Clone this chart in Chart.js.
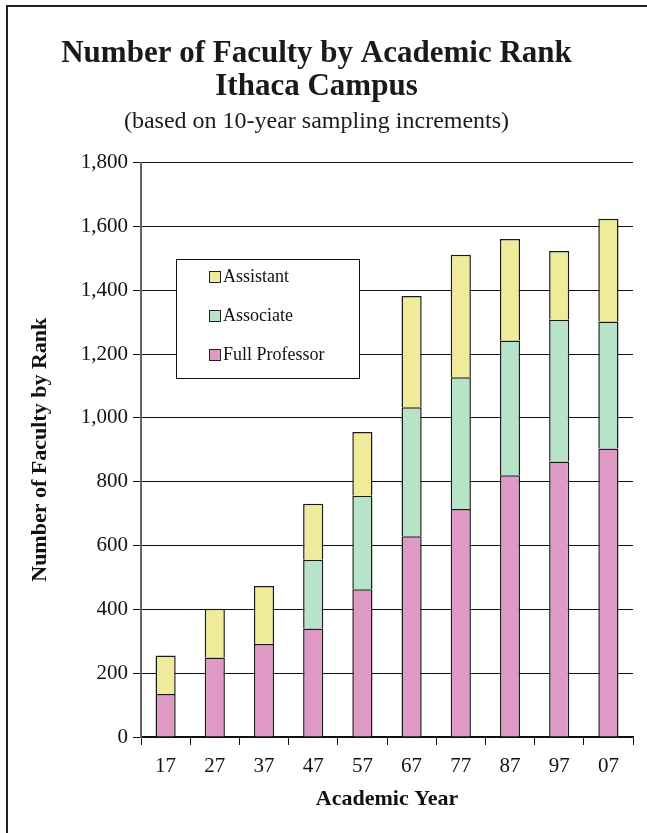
<!DOCTYPE html>
<html>
<head>
<meta charset="utf-8">
<script src="https://cdn.jsdelivr.net/npm/chart.js@4"></script>
<style>
  html, body { margin: 0; padding: 0; background: #fff; }
  #wrap { width: 647px; height: 833px; }
</style>
</head>
<body>
<div id="wrap"><canvas id="chart" width="647" height="833"></canvas></div>
<script>
const years = ["17", "27", "37", "47", "57", "67", "77", "87", "97", "07"];
const fullProfessor = [135, 249, 291, 340, 463, 629, 714, 820, 863, 904];
const associate = [null, null, null, 215, 293, 404, 413, 422, 444, 398];
const assistant = [120, 153, 182, 176, 200, 349, 384, 318, 216, 322];
const yTicks = [0, 200, 400, 600, 800, 1000, 1200, 1400, 1600, 1800];

const serif = "'Liberation Serif', 'Times New Roman', serif";

// frame around the figure + legend box inside the plot
const decor = {
  id: "decor",
  beforeDraw(chart) {
    const ctx = chart.ctx;
    ctx.save();
    ctx.strokeStyle = "#222";
    ctx.lineWidth = 2;
    ctx.beginPath();
    ctx.moveTo(7, 833);
    ctx.lineTo(7, 6);
    ctx.lineTo(647, 6);
    ctx.stroke();
    ctx.restore();
  },
  afterDraw(chart) {
    const ctx = chart.ctx;
    const sets = chart.data.datasets.slice().reverse();
    ctx.save();
    ctx.fillStyle = "#fff";
    ctx.fillRect(176, 259, 183, 119);
    ctx.strokeStyle = "#111";
    ctx.lineWidth = 1;
    ctx.strokeRect(176.5, 259.5, 183, 119);
    ctx.font = "18px " + serif;
    ctx.textBaseline = "middle";
    sets.forEach((ds, i) => {
      const y = 277 + i * 39;
      ctx.fillStyle = ds.backgroundColor;
      ctx.fillRect(209.5, y - 5.5, 11, 11);
      ctx.strokeStyle = "#222";
      ctx.strokeRect(209.5, y - 5.5, 11, 11);
      ctx.fillStyle = "#111";
      ctx.fillText(ds.label, 223, y);
    });
    ctx.restore();
  }
};

new Chart(document.getElementById("chart"), {
  type: "bar",
  data: {
    labels: years,
    datasets: [
      { label: "Full Professor", data: fullProfessor, backgroundColor: "#de9ac4" },
      { label: "Associate", data: associate, backgroundColor: "#b7e3c9" },
      { label: "Assistant", data: assistant, backgroundColor: "#f0ea9b" }
    ].map((d) => ({
      ...d,
      borderColor: "#1a1a1a",
      borderWidth: 1.5,
      borderSkipped: "start",
      barPercentage: 0.41,
      categoryPercentage: 1
    }))
  },
  options: {
    responsive: false,
    animation: false,
    layout: { padding: { left: 0, right: 14, top: 0, bottom: 0 } },
    plugins: {
      legend: { display: false },
      tooltip: { enabled: false },
      title: {
        display: true,
        text: ["Number of Faculty by Academic Rank", "Ithaca Campus"],
        color: "#1a1a1a",
        font: { family: serif, size: 31, weight: "bold", lineHeight: 1.05 },
        padding: { top: 38, bottom: 2 }
      },
      subtitle: {
        display: true,
        text: "(based on 10-year sampling increments)",
        color: "#1a1a1a",
        font: { family: serif, size: 24, lineHeight: 1.1 },
        padding: { top: 3, bottom: 28 }
      }
    },
    scales: {
      x: {
        stacked: true,
        afterFit(scale) { scale.height = 96; },
        grid: {
          offset: true,
          drawOnChartArea: false,
          drawTicks: true,
          tickLength: 8,
          color: "#111"
        },
        border: { display: true, color: "#111", width: 1.5 },
        ticks: {
          color: "#111",
          padding: 9,
          font: { family: serif, size: 21 }
        },
        title: {
          display: true,
          text: "Academic Year",
          color: "#111",
          font: { family: serif, size: 22, weight: "bold", lineHeight: 1.2 },
          padding: { top: 4, bottom: 20 }
        }
      },
      y: {
        stacked: true,
        min: 0,
        max: 1800,
        afterFit(scale) { scale.width = 141; },
        afterBuildTicks(scale) { scale.ticks = yTicks.map((v) => ({ value: v })); },
        grid: {
          color: "#111",
          lineWidth: 1,
          drawTicks: true,
          tickLength: 8
        },
        border: { display: true, color: "#666", width: 2 },
        ticks: {
          color: "#111",
          padding: 5,
          font: { family: serif, size: 21 },
          callback: (v) => v.toLocaleString("en-US")
        },
        title: {
          display: true,
          text: "Number of Faculty by Rank",
          color: "#111",
          font: { family: serif, size: 22, weight: "bold", lineHeight: 1.2 },
          padding: { top: 27, bottom: 0 }
        }
      }
    }
  },
  plugins: [decor]
});
</script>
</body>
</html>
